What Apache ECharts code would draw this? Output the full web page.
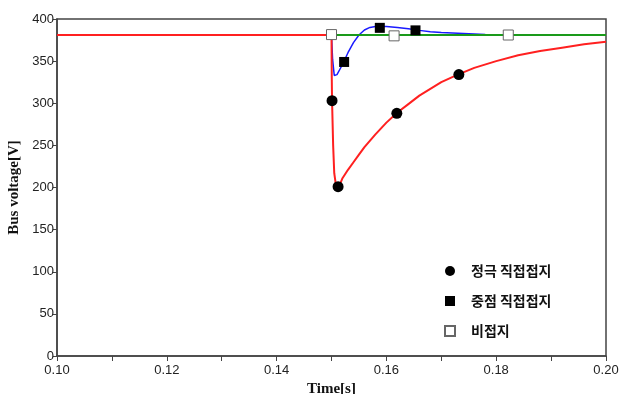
<!DOCTYPE html>
<html>
<head>
<meta charset="utf-8">
<script src="https://cdn.jsdelivr.net/npm/echarts@6/dist/echarts.min.js"></script>
<style>
  html, body { margin: 0; padding: 0; background: #fff; }
  #chart { width: 625px; height: 394px; }
</style>
</head>
<body>
<div id="chart"></div>
<script>
// series names (legend)
const names = ["정극 직접접지", "중점 직접접지", "비접지"];

// line traces [time s, voltage V]
const redLine = [
  [0.100, 381], [0.1500, 381], [0.15005, 330], [0.1501, 303], [0.1503, 250],
  [0.1505, 217], [0.1508, 203], [0.1510, 200], [0.1515, 203], [0.152, 211],
  [0.153, 221], [0.154, 230], [0.155, 239], [0.156, 248], [0.158, 263],
  [0.160, 277], [0.162, 289], [0.164, 299], [0.166, 309], [0.168, 317],
  [0.170, 325], [0.173, 334], [0.176, 342], [0.180, 350], [0.184, 357],
  [0.188, 362], [0.192, 366], [0.196, 370], [0.200, 373]
];
const blueLine = [
  [0.100, 381], [0.1500, 381], [0.1502, 352], [0.1505, 333], [0.1508, 331],
  [0.151, 334], [0.152, 346], [0.153, 360], [0.154, 372], [0.155, 381],
  [0.156, 387], [0.157, 390], [0.158, 391], [0.160, 391], [0.162, 390],
  [0.164, 388.5], [0.166, 386.5], [0.168, 385], [0.170, 384], [0.172, 383.5],
  [0.175, 382.5], [0.178, 381.5], [0.182, 381], [0.200, 381]
];
const greenLine = [[0.100, 381], [0.200, 381]];

// marker points
const redMarks = [[0.1501, 303], [0.1512, 201], [0.1619, 288], [0.1732, 334]];
const blueMarks = [[0.1523, 349], [0.1588, 389.5], [0.1653, 386.5]];
const greenMarks = [[0.1500, 381.5], [0.1614, 380], [0.1822, 381]];

const chart = echarts.init(document.getElementById("chart"));
const axisColor = "#444";
const labelFont = { color: "#222", fontSize: 13, fontFamily: "Liberation Sans, Arial, sans-serif" };
const nameFont = { color: "#111", fontSize: 15, fontWeight: "bold", fontFamily: "Liberation Serif, Times New Roman, serif" };

chart.setOption({
  animation: false,
  backgroundColor: "#fff",
  grid: { left: 57, right: 19, top: 19, bottom: 38, outerBoundsMode: "none",
    show: true, borderColor: axisColor, borderWidth: 1.5 },
  legend: {
    data: names,
    orient: "vertical",
    left: 439,
    top: 258,
    itemWidth: 10,
    itemHeight: 10,
    itemGap: 14,
    textStyle: { color: "#111", fontSize: 14, fontWeight: "bold", lineHeight: 16,
      fontFamily: "Noto Sans CJK KR, sans-serif", padding: [0, 0, 0, 11] }
  },
  xAxis: {
    type: "value",
    min: 0.1,
    max: 0.2,
    interval: 0.02,
    name: "Time[s]",
    nameLocation: "middle",
    nameGap: 21,
    nameTextStyle: nameFont,
    axisLine: { lineStyle: { color: axisColor, width: 1.5 } },
    axisTick: { length: 5, lineStyle: { color: axisColor } },
    minorTick: { show: true, splitNumber: 2, length: 5, lineStyle: { color: axisColor } },
    axisLabel: { ...labelFont, margin: 8, formatter: (v) => v.toFixed(2) },
    splitLine: { show: false }
  },
  yAxis: {
    type: "value",
    min: 0,
    max: 400,
    interval: 50,
    name: "Bus voltage[V]",
    nameLocation: "middle",
    nameGap: 34,
    nameTextStyle: nameFont,
    axisLine: { show: true, lineStyle: { color: axisColor, width: 1.5 } },
    axisTick: { show: true, length: 4, lineStyle: { color: axisColor } },
    axisLabel: { ...labelFont, margin: 3 },
    splitLine: { show: false }
  },
  series: [
    { type: "line", data: blueLine, symbol: "none", z: 2, lineStyle: { color: "#1a1aff", width: 1.5 } },
    { type: "line", data: greenLine, symbol: "none", z: 3, lineStyle: { color: "#1a9a1a", width: 2 } },
    { type: "line", data: redLine, symbol: "none", z: 4, lineStyle: { color: "#ff2020", width: 2 } },
    { name: names[0], type: "scatter", data: redMarks, symbol: "circle", symbolSize: 11, z: 6,
      itemStyle: { color: "#000", opacity: 1 } },
    { name: names[1], type: "scatter", data: blueMarks, symbol: "rect", symbolSize: 10, z: 6,
      itemStyle: { color: "#000", opacity: 1 } },
    { name: names[2], type: "scatter", data: greenMarks, symbol: "rect", symbolSize: 10, z: 6,
      itemStyle: { color: "#fff", borderColor: "#666", borderWidth: 1, opacity: 1 } }
  ]
});
</script>
</body>
</html>
